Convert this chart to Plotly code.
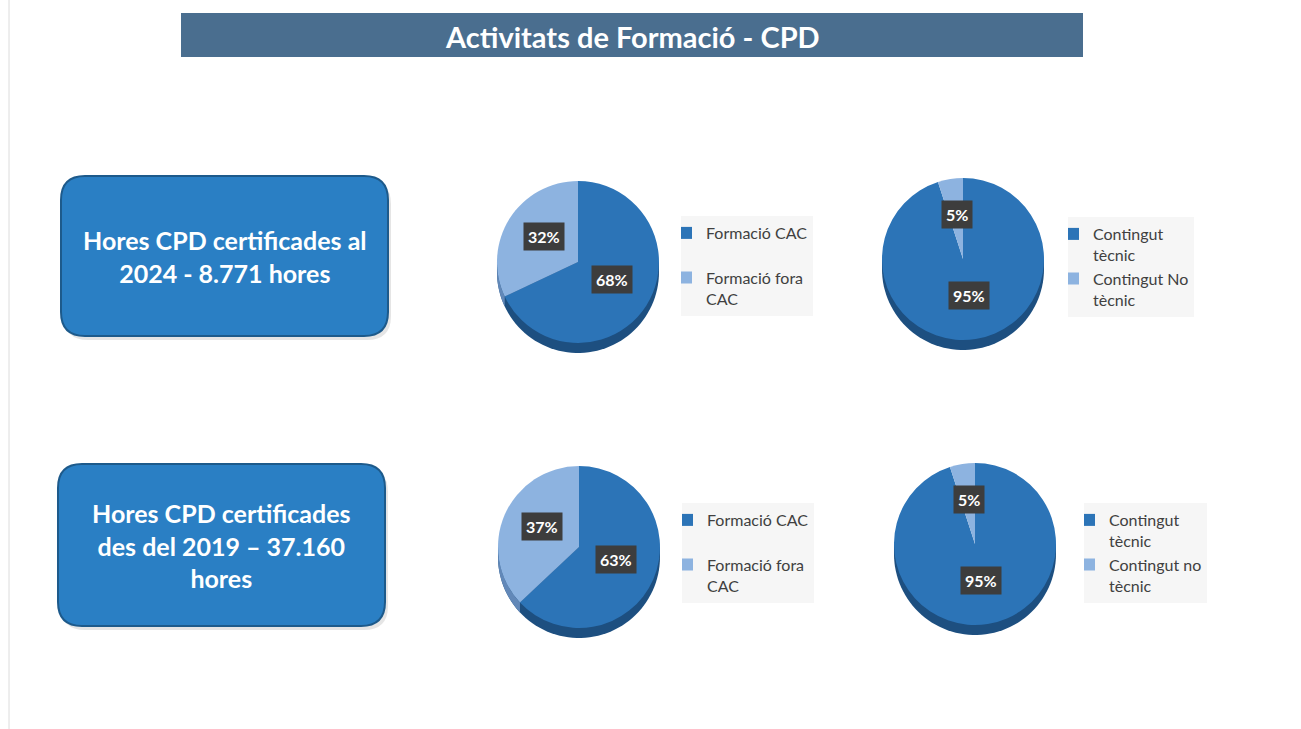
import numpy as np
import plotly.graph_objects as go

W, H = 1301, 729

# ---------------- data ----------------
title_text = "Activitats de Formació - CPD"
box_texts = ["Hores CPD certificades al<br>2024 - 8.771 hores",
             "Hores CPD certificades<br>des del 2019 – 37.160<br>hores"]

labels_cac_2024 = ["Formació CAC", "Formació fora CAC"]
values_cac_2024 = [68, 32]
labels_tec_2024 = ["Contingut tècnic", "Contingut No tècnic"]
values_tec_2024 = [95, 5]
labels_cac_2019 = ["Formació CAC", "Formació fora CAC"]
values_cac_2019 = [63, 37]
labels_tec_2019 = ["Contingut tècnic", "Contingut no tècnic"]
values_tec_2019 = [95, 5]

# legend display text (line breaks as in the slide)
legend_cac = ["Formació CAC<br> ", "Formació fora<br>CAC"]
legend_tec_2024 = ["Contingut<br>tècnic", "Contingut No<br>tècnic"]
legend_tec_2019 = ["Contingut<br>tècnic", "Contingut no<br>tècnic"]

DARK = "#2c74b7"
LIGHT = "#8db3e0"
SIDE_DARK = "#1d4f80"
SIDE_LIGHT = "#6288b8"
FONT = "Lato, Open Sans, sans-serif"


def px(x):
    return x / W


def py(y):
    return 1 - y / H


def path_from_points(pts):
    return "M " + " L ".join(f"{px(x):.5f},{py(y):.5f}" for x, y in pts) + " Z"


def rrect(x0, y0, x1, y1, r):
    P = lambda x, y: f"{px(x):.5f},{py(y):.5f}"
    return (f"M {P(x0+r,y0)} L {P(x1-r,y0)} Q {P(x1,y0)} {P(x1,y0+r)} "
            f"L {P(x1,y1-r)} Q {P(x1,y1)} {P(x1-r,y1)} L {P(x0+r,y1)} "
            f"Q {P(x0,y1)} {P(x0,y1-r)} L {P(x0,y0+r)} Q {P(x0,y0)} {P(x0+r,y0)} Z")


fig = go.Figure()
shapes = []
annotations = []

# left slide edge line
shapes.append(dict(type="line", xref="paper", yref="paper", x0=px(9), x1=px(9),
                   y0=0, y1=1, line=dict(color="#dcdcdc", width=1), layer="below"))

# title bar
shapes.append(dict(type="rect", xref="paper", yref="paper", x0=px(181), x1=px(1083),
                   y0=py(57), y1=py(13), fillcolor="#4a6e8f", line=dict(width=0),
                   layer="below"))
annotations.append(dict(text=f"<b>{title_text}</b>", x=px(632), y=py(36), xref="paper",
                        yref="paper", showarrow=False, xanchor="center", yanchor="middle",
                        font=dict(family=FONT, size=29, color="white")))

# rounded boxes
for (x0, y0, x1, y1), txt in zip([(61, 176, 388, 336), (58, 464, 385, 626)], box_texts):
    shapes.append(dict(type="path", xref="paper", yref="paper",
                       path=rrect(x0 + 3, y0 + 4, x1 + 3, y1 + 4, 24),
                       fillcolor="rgba(0,0,0,0.10)", line=dict(width=0), layer="below"))
    shapes.append(dict(type="path", xref="paper", yref="paper",
                       path=rrect(x0, y0, x1, y1, 24),
                       fillcolor="#2a7fc4", line=dict(color="#1d5a8b", width=2),
                       layer="below"))
    annotations.append(dict(text=f"<b>{txt}</b>", x=px((x0 + x1) / 2), y=py((y0 + y1) / 2),
                            xref="paper", yref="paper", showarrow=False,
                            xanchor="center", yanchor="middle",
                            font=dict(family=FONT, size=25, color="white")))

pies = [
    dict(values=values_cac_2024, labels=labels_cac_2024, leg=legend_cac, cx=578, cy=262,
         legend="legend", lx=681, ly=216),
    dict(values=values_tec_2024, labels=labels_tec_2024, leg=legend_tec_2024, cx=963, cy=259,
         legend="legend2", lx=1068, ly=217),
    dict(values=values_cac_2019, labels=labels_cac_2019, leg=legend_cac, cx=579, cy=547,
         legend="legend3", lx=682, ly=503),
    dict(values=values_tec_2019, labels=labels_tec_2019, leg=legend_tec_2019, cx=975, cy=544,
         legend="legend4", lx=1084, ly=503),
]

R = 81
D = 10
legend_layouts = {}

for k, p in enumerate(pies):
    cx, cy = p["cx"], p["cy"]
    vals = np.array(p["values"], dtype=float)
    tot = vals.sum()

    # 3D side of the pie
    t = np.linspace(0, np.pi, 60)
    pts = [(cx + R * np.cos(a), cy + D + R * np.sin(a)) for a in t]
    pts += [(cx - R, cy), (cx + R, cy)]
    shapes.append(dict(type="path", xref="paper", yref="paper", path=path_from_points(pts),
                       fillcolor=SIDE_DARK, line=dict(width=0), layer="below"))
    a0 = 360 * vals[0] / tot
    lo, hi = max(a0, 90), 270
    if lo < hi:
        tt = np.radians(np.linspace(lo, hi, 30) - 90)
        seg = [(cx + R * np.cos(a), cy + D + R * np.sin(a)) for a in tt]
        seg += [(cx + R * np.cos(a), cy + R * np.sin(a)) for a in tt[::-1]]
        shapes.append(dict(type="path", xref="paper", yref="paper",
                           path=path_from_points(seg),
                           fillcolor=SIDE_LIGHT, line=dict(width=0), layer="below"))

    # unique legend labels per pie (invisible suffix so legends are not merged)
    leg_labels = [s + "\u200b" * k for s in p["leg"]]

    fig.add_trace(go.Pie(
        values=p["values"], labels=leg_labels, hovertext=p["labels"],
        hoverinfo="text+percent", sort=False, direction="clockwise", rotation=0,
        marker=dict(colors=[DARK, LIGHT], line=dict(width=0)),
        textinfo="none",
        domain=dict(x=[px(cx - R), px(cx + R)], y=[py(cy + R), py(cy - R)]),
        legend=p["legend"], showlegend=True,
    ))

    cum = 0
    for v in vals:
        mid = np.radians(360 * (cum + v / 2) / tot)
        cum += v
        lx = cx + 0.5 * R * np.sin(mid)
        ly = cy - 0.5 * R * np.cos(mid) - 4
        annotations.append(dict(text=f"<b>{int(round(100 * v / tot))}%</b>",
                                x=px(lx), y=py(ly), xref="paper", yref="paper",
                                xanchor="center", yanchor="middle",
                                showarrow=False, bgcolor="#3d3d3d", borderpad=4,
                                font=dict(family=FONT, size=16, color="white")))

    legend_layouts[p["legend"]] = dict(
        x=px(p["lx"]), y=py(p["ly"]), xanchor="left", yanchor="top",
        bgcolor="#f6f6f6", borderwidth=0, valign="top", itemwidth=30,
        font=dict(family=FONT, size=16, color="#404040"), indentation=-15,
    )

fig.update_layout(
    width=W, height=H, margin=dict(l=0, r=0, t=0, b=0),
    paper_bgcolor="white", plot_bgcolor="white",
    shapes=shapes, annotations=annotations,
    **legend_layouts,
)

fig.write_html("out.html")
